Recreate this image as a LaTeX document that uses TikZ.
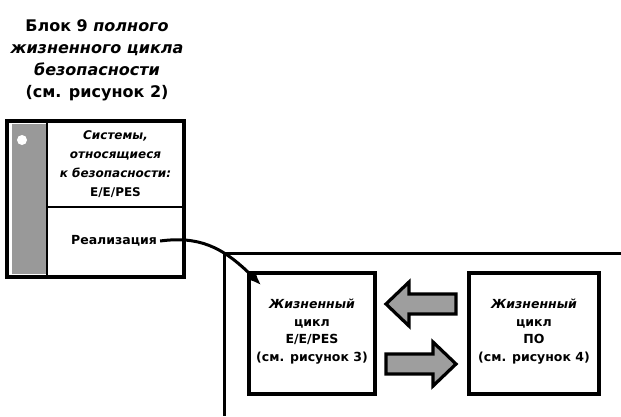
\documentclass[tikz,border=0pt]{standalone}
\usepackage{fontspec}
\setmainfont{DejaVu Sans}
\usetikzlibrary{arrows.meta}

\tikzset{
  box/.style={draw, line width=3.2pt, inner sep=0pt},
  lbl/.style={align=center, inner sep=0pt, font=\bfseries\fontsize{12.5}{17.5}\selectfont},
  bigarrow/.style={draw, line width=3.2pt, fill=black!38, line join=miter},
}

\begin{document}
\begin{tikzpicture}[x=1pt,y=-1pt]
		\useasboundingbox (0,0) rectangle (621,416);
		% block 9 title
		\node[align=center, font=\bfseries\fontsize{16}{22}\selectfont] (titel) at (97,60)
			{Блок 9 \textit{полного}\\ \textit{жизненного цикла}\\ \textit{безопасности}\\ (см. рисунок 2)};
		% left box
		\node[box, minimum width=177pt, minimum height=156pt] (blok) at (95.5,199) {};
		\fill[black!40] (12,124) rectangle (46,274);
		\fill[white] (22,140) circle (5);
		\draw[line width=2.8pt] (47,121) -- (47,277);
		\draw[line width=2.8pt] (47,207) -- (184,207);
		\node[lbl, font=\bfseries\fontsize{12}{19}\selectfont] (sys) at (115.5,164)
			{\textit{Системы,}\\ \textit{относящиеся}\\ \textit{к безопасности:}\\ Е/Е/PES};
		\node[lbl] (real) at (114,241) {Реализация};
		% frame
		\draw[line width=3pt] (621,253) -- (224,253) -- (224,416);
		% life cycles
		\node[box, minimum width=126pt, minimum height=121pt] (hw) at (312,333.5) {};
		\node[lbl] at (312,331.5) {\textit{Жизненный}\\ цикл\\ Е/Е/PES\\ (см. рисунок 3)};
		\node[box, minimum width=130pt, minimum height=121pt] (sw) at (534,333.5) {};
		\node[lbl] at (534,331.5) {\textit{Жизненный}\\ цикл\\ ПО\\ (см. рисунок 4)};
		% block arrows
		\draw[bigarrow] (456,294) -- (409,294) -- (409,282) -- (386,304) -- (409,326) -- (409,314) -- (456,314) -- cycle;
		\draw[bigarrow] (386,354) -- (433,354) -- (433,342) -- (456,364) -- (433,386) -- (433,374) -- (386,374) -- cycle;
		% connector
		\coordinate (ziel) at (261,285);
		\draw[line width=3pt, -{Latex[length=14pt,width=12pt]}] ([xshift=3pt]real.east) .. controls (198,236) and (222,246) .. (ziel);
\end{tikzpicture}
\end{document}
